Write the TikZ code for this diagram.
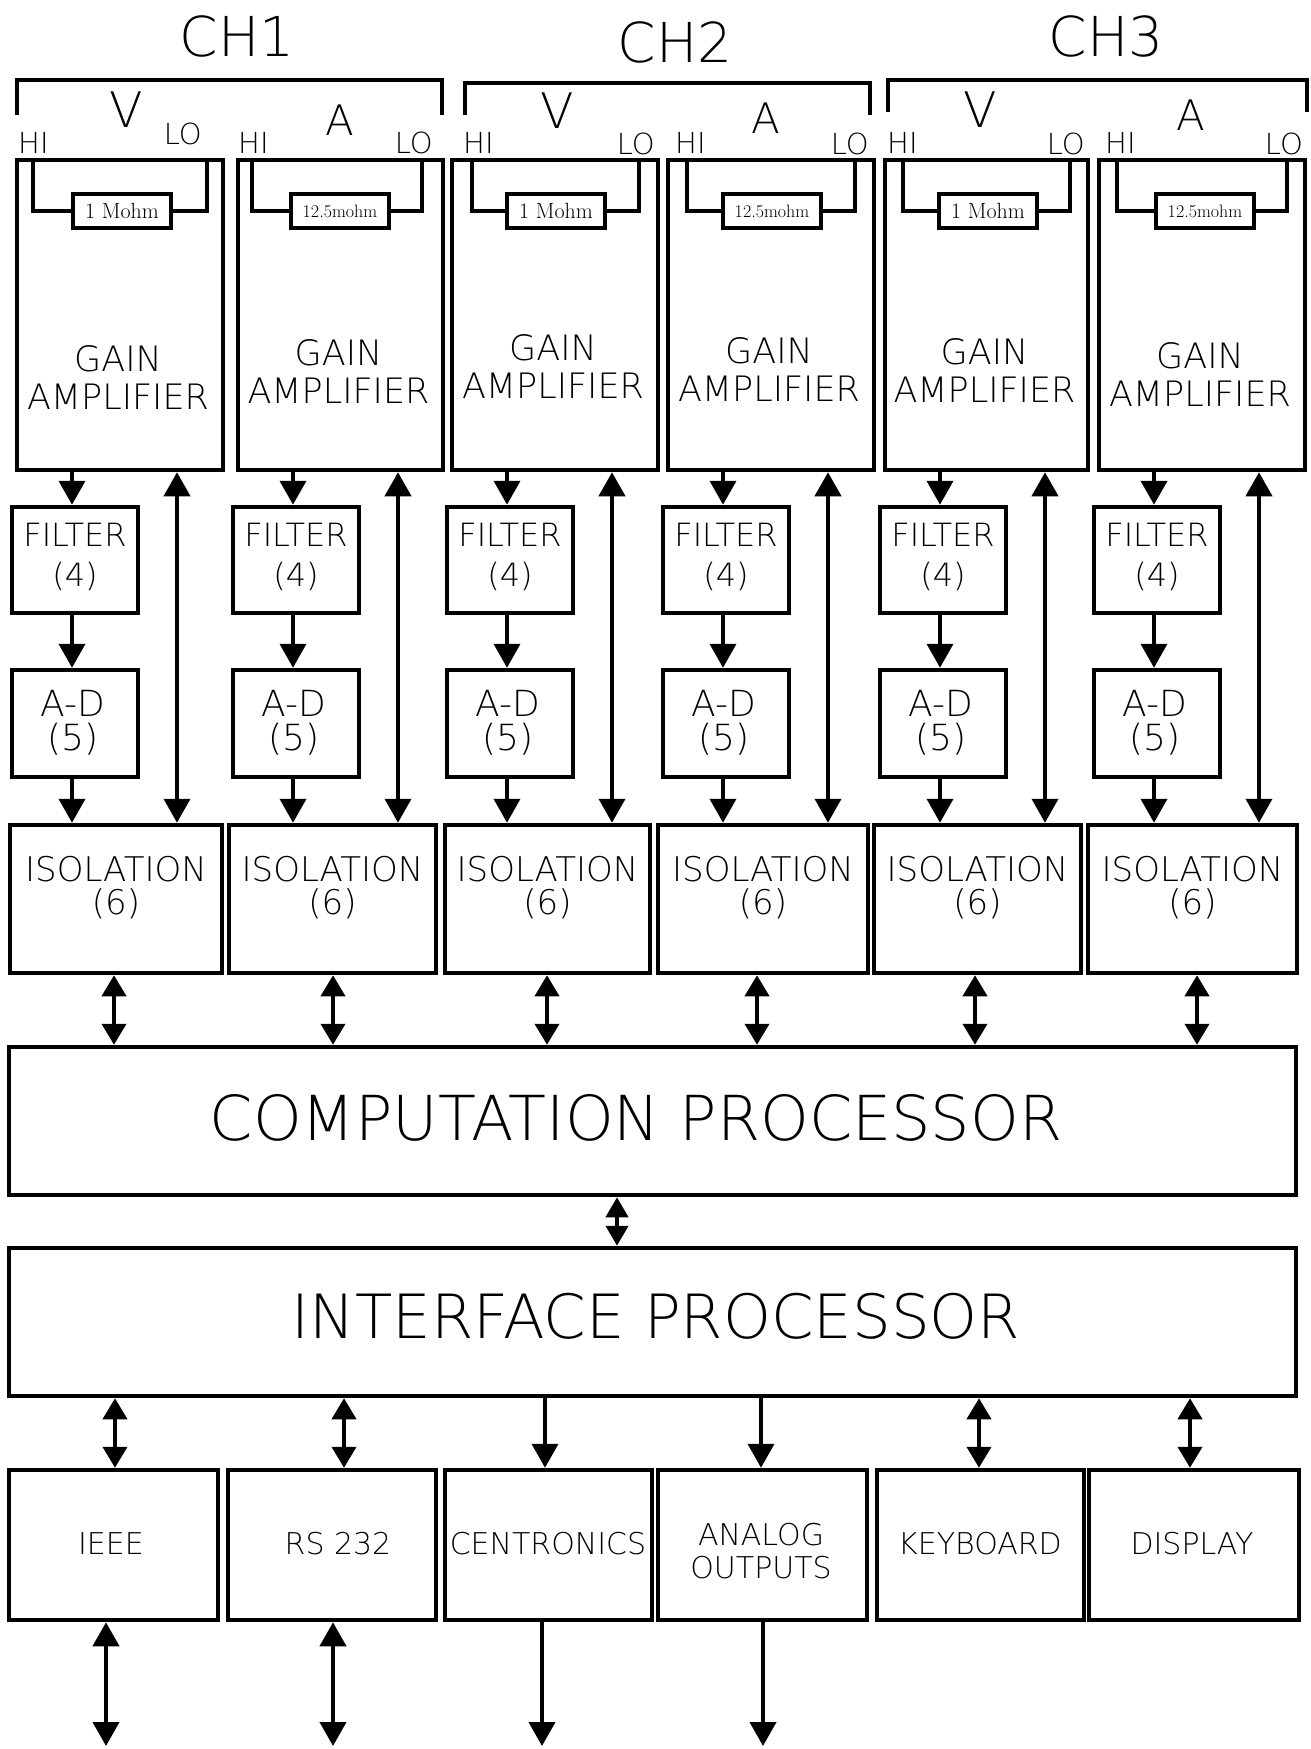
\documentclass[tikz,border=0pt]{standalone}
\usepackage{fontspec}
\newfontfamily\lt{DejaVu Sans ExtraLight}
\usetikzlibrary{arrows.meta}
\newcommand\myfs[2]{\fontsize{#1}{#2}\selectfont}
\begin{document}
\begin{tikzpicture}[x=1pt,y=-1pt,
  blk/.style={draw, rectangle, line width=4.5pt, inner sep=0pt},
  res/.style={draw, rectangle, line width=4pt, fill=white, inner sep=0pt, minimum width=98, minimum height=34},
  wire/.style={line width=4pt},
  brk/.style={line width=4pt},
  arr/.style={line width=4pt, -{Triangle[width=26pt,length=24pt]}},
  barr/.style={line width=4pt, {Triangle[width=26pt,length=24pt]}-{Triangle[width=26pt,length=24pt]}},
  sbarr/.style={line width=4pt, {Triangle[width=24pt,length=21pt]}-{Triangle[width=24pt,length=21pt]}},
  tbarr/.style={line width=4pt, {Triangle[width=22pt,length=20pt]}-{Triangle[width=22pt,length=20pt]}},
  txt/.style={align=center, inner sep=0pt}
]
\useasboundingbox (0,0) rectangle (1311,1749);
\fill[white] (0,0) rectangle (1311,1749);

% channel titles
\node[txt, font=\lt\myfs{55}{60}] (ch1) at (237,36) {CH1};
\node[txt, font=\lt\myfs{55}{60}] (ch2) at (675,42) {CH2};
\node[txt, font=\lt\myfs{55}{60}] (ch3) at (1106,36) {CH3};

% brackets
\draw[brk] (17,115) -- (17,80) -- (442,80) -- (442,115);
\draw[brk] (465,115) -- (465,83) -- (870,83) -- (870,115);
\draw[brk] (888,112) -- (888,80) -- (1307,80) -- (1307,112);

% V / A
\node[txt, font=\lt\myfs{49}{49}] (v1) at (126,110) {V};
\node[txt, font=\lt\myfs{49}{49}] (v2) at (557,111) {V};
\node[txt, font=\lt\myfs{49}{49}] (v3) at (980,110) {V};
\node[txt, font=\lt\myfs{42}{42}] (a1) at (340,120) {A};
\node[txt, font=\lt\myfs{42}{42}] (a2) at (766,118) {A};
\node[txt, font=\lt\myfs{42}{42}] (a3) at (1191,115) {A};

% HI / LO
\foreach \i/\x in {1/18,2/238,3/463,4/675,5/887,6/1105}
  \node[txt, font=\lt\myfs{29}{29}, anchor=base west] (hi\i) at (\x,153) {HI};
\foreach \i/\x/\y in {1/202/144,2/433/153,3/655/154,4/869/154,5/1085/154,6/1303/154}
  \node[txt, font=\lt\myfs{29}{29}, anchor=base east] (lo\i) at (\x,\y) {LO};

% processors
\node[blk, minimum width=1287, minimum height=148] (comp) at (652.5,1121) {};
\node[txt, font=\lt\myfs{62}{62}] (compt) at (636,1118) {COMPUTATION PROCESSOR};
\node[blk, minimum width=1287, minimum height=148] (iface) at (652.5,1322) {};
\node[txt, font=\lt\myfs{61}{61}] (ifacet) at (656,1316) {INTERFACE PROCESSOR};
\coordinate (cx) at (617,0);
\draw[tbarr] (comp.south -| cx) -- (iface.north -| cx);

% channel columns
\foreach \i/\L/\R/\ty/\IL/\IR/\ix in {1/17/223/378/10/222/114, 2/238/443/372/229/436/333, 3/452/658/367/445/650/547, 4/668/874/370/658/868/757, 5/885/1088/371/874/1081/975, 6/1099/1305/375/1088/1297/1197}{
  \node[blk, minimum width={\R-\L}, minimum height=310] (g\i) at ({(\L+\R)/2},315) {};
  \node[txt, font=\lt\myfs{35}{38}] (gt\i) at ({(\L+\R)/2-2},\ty) {GAIN\\AMPLIFIER};
  \node[blk, minimum width=126, minimum height=106] (f\i) at (\L+58,560) {};
  \node[txt, font=\lt\myfs{32}{40}] (ft\i) at (\L+58,557) {FILTER\\(4)};
  \node[blk, minimum width=126, minimum height=107] (ad\i) at (\L+58,723.5) {};
  \node[txt, font=\lt\myfs{36}{34}] (adt\i) at (\L+56,723) {A-D\\(5)};
  \node[blk, minimum width={\IR-\IL}, minimum height=148] (iso\i) at ({(\IL+\IR)/2},899) {};
  \node[txt, font=\lt\myfs{34}{33}] (isot\i) at ({(\IL+\IR)/2},888) {ISOLATION\\(6)};
  \coordinate (dx\i) at (\L+55,0);
  \coordinate (bx\i) at (\L+160,0);
  \coordinate (ix\i) at (\ix,0);
  \draw[arr] (g\i.south -| dx\i) -- (f\i.north -| dx\i);
  \draw[arr] (f\i.south -| dx\i) -- (ad\i.north -| dx\i);
  \draw[arr] (ad\i.south -| dx\i) -- (iso\i.north -| dx\i);
  \draw[barr] (g\i.south -| bx\i) -- (iso\i.north -| bx\i);
  \draw[sbarr] (iso\i.south -| ix\i) -- (comp.north -| ix\i);
}

% shunt resistors
\foreach \i/\c in {1/122, 3/556, 5/988}{
  \node[res, font=\rmfamily\myfs{22}{22}] (r\i) at (\c,211) {1 Mohm};
}
\foreach \i/\c in {2/340, 4/772, 6/1205}{
  \node[res, font=\rmfamily\myfs{18}{18}] (r\i) at (\c,211) {12.5mohm};
}
\foreach \i/\wl/\wr in {1/33/207, 2/252/422, 3/472/639, 4/687/855, 5/903/1070, 6/1117/1287}{
  \coordinate (wl\i) at (\wl,211);
  \coordinate (wr\i) at (\wr,211);
  \draw[wire] (g\i.north -| wl\i) -- (wl\i) -- (r\i.west);
  \draw[wire] (r\i.east) -- (wr\i) -- (g\i.north -| wr\i);
}

% output blocks
\node[blk, minimum width=209, minimum height=150] (b1) at (113.5,1545) {};
\node[blk, minimum width=208, minimum height=150] (b2) at (332,1545) {};
\node[blk, minimum width=207, minimum height=150] (b3) at (548.5,1545) {};
\node[blk, minimum width=209, minimum height=150] (b4) at (762.5,1545) {};
\node[blk, minimum width=207, minimum height=150] (b5) at (980.5,1545) {};
\node[blk, minimum width=210, minimum height=150] (b6) at (1194,1545) {};
\node[txt, font=\lt\myfs{30}{33}] (bt1) at (111,1544) {IEEE};
\node[txt, font=\lt\myfs{30}{33}] (bt2) at (338,1544) {RS 232};
\node[txt, font=\lt\myfs{30}{33}] (bt3) at (548,1544) {CENTRONICS};
\node[txt, font=\lt\myfs{30}{33}] (bt4) at (761,1551) {ANALOG\\OUTPUTS};
\node[txt, font=\lt\myfs{30}{33}] (bt5) at (980,1544) {KEYBOARD};
\node[txt, font=\lt\myfs{30}{33}] (bt6) at (1192,1544) {DISPLAY};

\foreach \i/\x in {1/115,2/344,3/545,4/761,5/979,6/1190}
  \coordinate (ux\i) at (\x,0);
\draw[sbarr] (iface.south -| ux1) -- (b1.north -| ux1);
\draw[sbarr] (iface.south -| ux2) -- (b2.north -| ux2);
\draw[arr] (iface.south -| ux3) -- (b3.north -| ux3);
\draw[arr] (iface.south -| ux4) -- (b4.north -| ux4);
\draw[sbarr] (iface.south -| ux5) -- (b5.north -| ux5);
\draw[sbarr] (iface.south -| ux6) -- (b6.north -| ux6);

\coordinate (e1) at (106,1746);
\coordinate (e2) at (333,1746);
\coordinate (e3) at (542,1746);
\coordinate (e4) at (763,1746);
\draw[barr] (b1.south -| e1) -- (e1);
\draw[barr] (b2.south -| e2) -- (e2);
\draw[arr] (b3.south -| e3) -- (e3);
\draw[arr] (b4.south -| e4) -- (e4);
\end{tikzpicture}
\end{document}
